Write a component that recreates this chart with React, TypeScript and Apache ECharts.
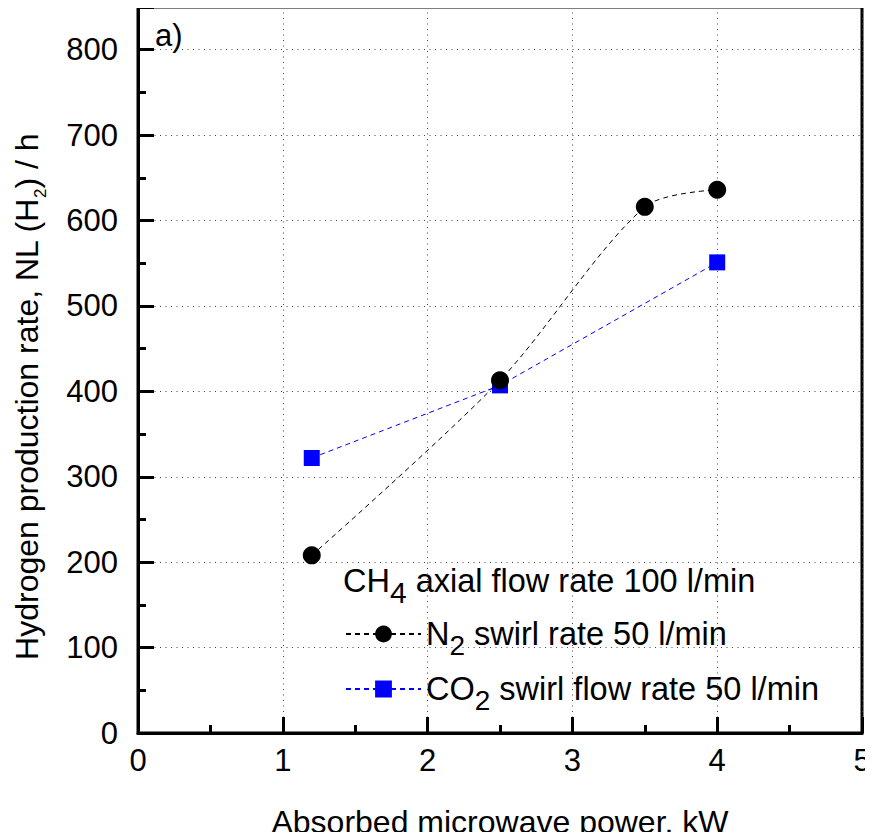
import React, { useEffect, useRef } from "react";
import * as echarts from "echarts";

const powerN2 = [1.2, 2.5, 3.5, 4.0];
const rateN2 = [208, 413, 616, 636];
const powerCO2 = [1.2, 2.5, 4.0];
const rateCO2 = [322, 407, 551];
const xTicks = [0, 1, 2, 3, 4, 5];
const yTicks = [0, 100, 200, 300, 400, 500, 600, 700, 800];

const FONT = "'Liberation Sans', Arial, Helvetica, sans-serif";

export default function App() {
  const ref = useRef<HTMLDivElement>(null);
  useEffect(() => {
    if (!ref.current) return;
    const chart = echarts.init(ref.current, undefined, { renderer: "svg" });
    const mainRich = (fs: number, sub: number, shift: number) => ({
      m: { fontSize: fs, fontFamily: FONT, color: "#000", lineHeight: 36 },
      s: { fontSize: sub, fontFamily: FONT, color: "#000", lineHeight: 36, padding: [shift * 2, 0, 0, 0] },
    });
    const legendCommon = {
      orient: "vertical",
      left: 345,
      padding: 0,
      itemWidth: 75,
      itemHeight: 21,
      selectedMode: false,
      textStyle: { fontFamily: FONT, rich: mainRich(32.5, 28, 11) },
    };
    chart.setOption({
      animation: false,
      backgroundColor: "#fff",
      textStyle: { fontFamily: FONT },
      grid: {
        left: 138,
        right: 11,
        top: 7,
        bottom: 107,
        show: true,
        borderColor: "#000",
        borderWidth: 3,
        outerBoundsMode: "none",
      },
      xAxis: {
        type: "value",
        min: xTicks[0],
        max: xTicks[xTicks.length - 1],
        interval: 1,
        name: "Absorbed microwave power, kW",
        nameLocation: "middle",
        nameGap: 73,
        nameTextStyle: { fontSize: 32, color: "#000", fontFamily: FONT },
        axisLine: { show: true, lineStyle: { color: "#000", width: 3 } },
        axisTick: { show: true, inside: true, length: 16, lineStyle: { color: "#000", width: 3 } },
        minorTick: { show: true, splitNumber: 2, length: 8, lineStyle: { color: "#000", width: 3 } },
        axisLabel: { fontSize: 31, color: "#000", margin: 12, fontFamily: FONT },
        splitLine: { show: true, lineStyle: { color: "#444", width: 1, type: [1, 4.5] } },
      },
      yAxis: [
        {
          type: "value",
          min: yTicks[0],
          max: 850,
          interval: 100,
          position: "left",
          name: "{m|Hydrogen production rate, NL (H}{s|2}{m|) / h}",
          nameLocation: "middle",
          nameGap: 92,
          nameTextStyle: {
            padding: [0, 54, 0, 0],
            rich: {
              m: { fontSize: 32, fontFamily: FONT, color: "#000", lineHeight: 38 },
              s: { fontSize: 17, fontFamily: FONT, color: "#000", lineHeight: 38, padding: [26, 0, 0, 0] },
            },
          },
          axisLine: { show: true, lineStyle: { color: "#000", width: 3 } },
          axisTick: { show: true, inside: true, length: 16, lineStyle: { color: "#000", width: 3 } },
          axisLabel: {
            fontSize: 31,
            color: "#000",
            margin: 20,
            fontFamily: FONT,
            formatter: (v: number) => (yTicks.includes(v) ? String(v) : ""),
          },
          splitLine: { show: true, lineStyle: { color: "#444", width: 1, type: [1, 4.5] } },
        },
        {
          type: "value",
          min: 0,
          max: 850,
          interval: 50,
          position: "left",
          axisLine: { show: false },
          axisTick: { show: true, inside: true, length: 8, lineStyle: { color: "#000", width: 3 } },
          axisLabel: { show: false },
          splitLine: { show: false },
        },
      ],
      legend: [
        { ...legendCommon, top: 609, data: ["N2"], formatter: () => "{m|N}{s|2}{m| swirl rate 50 l/min}" },
        { ...legendCommon, top: 664, data: ["CO2"], formatter: () => "{m|CO}{s|2}{m| swirl flow rate 50 l/min}" },
      ],
      graphic: [
        {
          type: "text",
          left: 155,
          top: 20,
          style: { text: "a)", fontSize: 31, fontFamily: FONT, fill: "#000" },
        },
        {
          type: "text",
          left: 343,
          top: 555,
          style: {
            text: "{m|CH}{s|4}{m| axial flow rate 100 l/min}",
            rich: mainRich(32.5, 30, 11),
          },
        },
      ],
      series: [
        {
          name: "N2",
          type: "line",
          yAxisIndex: 0,
          data: powerN2.map((p, i) => [p, rateN2[i]]),
          smooth: 0.3,
          symbol: "circle",
          symbolSize: 18,
          itemStyle: { color: "#000" },
          lineStyle: { color: "#000", width: 1, type: [5, 4] },
          z: 5,
        },
        {
          name: "CO2",
          type: "line",
          yAxisIndex: 0,
          data: powerCO2.map((p, i) => [p, rateCO2[i]]),
          symbol: "rect",
          symbolSize: 16,
          itemStyle: { color: "#0000ff" },
          lineStyle: { color: "#0000ff", width: 1, type: [5, 4] },
          z: 4,
        },
      ],
    });
    return () => chart.dispose();
  }, []);
  return <div ref={ref} style={{ width: 873, height: 840, margin: -8 }} />;
}
